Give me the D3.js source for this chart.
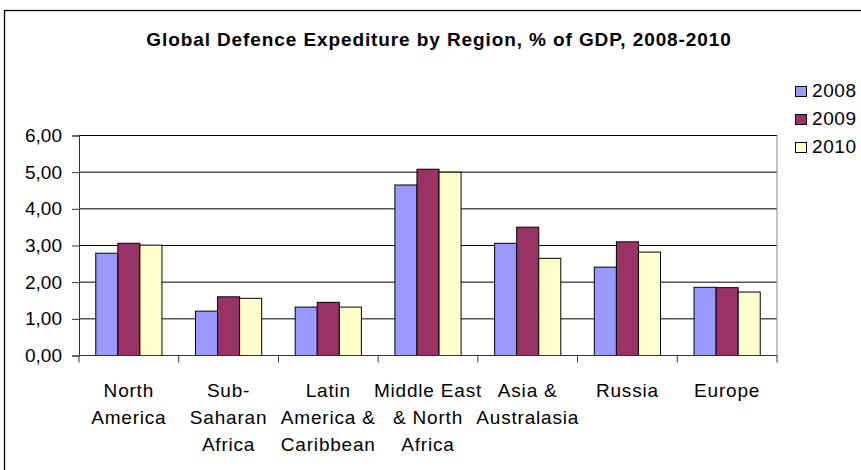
<!DOCTYPE html>
<html><head><meta charset="utf-8">
<script src="https://cdn.jsdelivr.net/npm/d3@7"></script>
<style>body{margin:0;background:#fff;} text{font-family:"Liberation Sans",Arial,sans-serif;}</style>
</head><body>
<svg id="c" width="861" height="470"></svg>
<script>
const categories = [["North","America"],["Sub-","Saharan","Africa"],["Latin","America &","Caribbean"],["Middle East","& North","Africa"],["Asia &","Australasia"],["Russia"],["Europe"]];
const seriesNames = ["2008","2009","2010"];
const values2008 = [2.79,1.21,1.32,4.65,3.06,2.41,1.86];
const values2009 = [3.06,1.60,1.45,5.08,3.50,3.10,1.85];
const values2010 = [3.01,1.56,1.32,5.00,2.65,2.82,1.73];
const yTicks = [0,1,2,3,4,5,6];
const colors = ["#9999FF","#993366","#FFFFCC"];
const title = "Global Defence Expediture by Region, % of GDP, 2008-2010";

const series = [values2008, values2009, values2010];
const svg = d3.select("#c");
// outer frame
svg.append("rect").attr("x",4.5).attr("y",10.5).attr("width",870).attr("height",480)
  .attr("fill","none").attr("stroke","#000").attr("stroke-width",1.3);

const L=79, R=777, T=135.5, B=355.5;
const x = d3.scaleBand().domain(d3.range(categories.length)).range([L,R]).paddingInner(0).paddingOuter(0);
const xi = d3.scaleBand().domain(d3.range(series.length)).range([0,x.bandwidth()]).paddingInner(0).paddingOuter(0.76);
const y = d3.scaleLinear().domain([0,6]).range([B,T]);

// gridlines
svg.append("g").selectAll("line").data(yTicks.filter(d=>d>0)).join("line")
  .attr("x1",L).attr("x2",R).attr("y1",d=>y(d)).attr("y2",d=>y(d))
  .attr("stroke","#000").attr("stroke-width",1);
// right border
svg.append("line").attr("x1",R).attr("x2",R).attr("y1",T).attr("y2",B).attr("stroke","#888");

// y axis
const yAxis = d3.axisLeft(y).tickValues(yTicks).tickSize(7).tickPadding(10)
  .tickFormat(d=>d3.format(".2f")(d).replace(".",","));
const gy = svg.append("g").attr("transform",`translate(${L},0)`).call(yAxis);
gy.select(".domain").attr("stroke","#333");
gy.selectAll(".tick line").attr("stroke","#333");
gy.selectAll("text").attr("font-size",19).attr("fill","#000").attr("font-family","Liberation Sans, Arial, sans-serif");

// bars
series.forEach((vals,si)=>{
  svg.append("g").selectAll("rect").data(vals).join("rect")
    .attr("x",(d,i)=>x(i)+xi(si))
    .attr("y",d=>y(d))
    .attr("width",xi.bandwidth())
    .attr("height",d=>B-y(d))
    .attr("fill",colors[si]).attr("stroke","#000").attr("stroke-width",1);
});

// x axis
const gx = svg.append("g").attr("transform",`translate(0,${B})`);
gx.append("line").attr("x1",L).attr("x2",R).attr("stroke","#333");
gx.selectAll(".t").data(d3.range(categories.length+1)).join("line")
  .attr("x1",d=>L+d*x.bandwidth()).attr("x2",d=>L+d*x.bandwidth()).attr("y1",0).attr("y2",7).attr("stroke","#333");
gx.selectAll(".lab").data(categories).join("text")
  .attr("text-anchor","middle").attr("font-size",19).attr("fill","#000").attr("letter-spacing",0.8)
  .each(function(d,i){
    const t=d3.select(this);
    d.forEach((line,j)=>t.append("tspan").attr("x",x(i)+x.bandwidth()/2).attr("y",41.5+j*27).text(line));
  });

// title
svg.append("text").attr("x",439).attr("y",46).attr("text-anchor","middle")
  .attr("font-size",19).attr("font-weight","bold").attr("letter-spacing",0.9).text(title);

// legend
const lg = svg.append("g");
seriesNames.forEach((n,i)=>{
  lg.append("rect").attr("x",795.5).attr("y",86.5+i*28).attr("width",11).attr("height",10)
    .attr("fill",colors[i]).attr("stroke","#000");
  lg.append("text").attr("x",812).attr("y",97+i*28).attr("font-size",19).attr("letter-spacing",0.6).text(n);
});
</script>
</body></html>
